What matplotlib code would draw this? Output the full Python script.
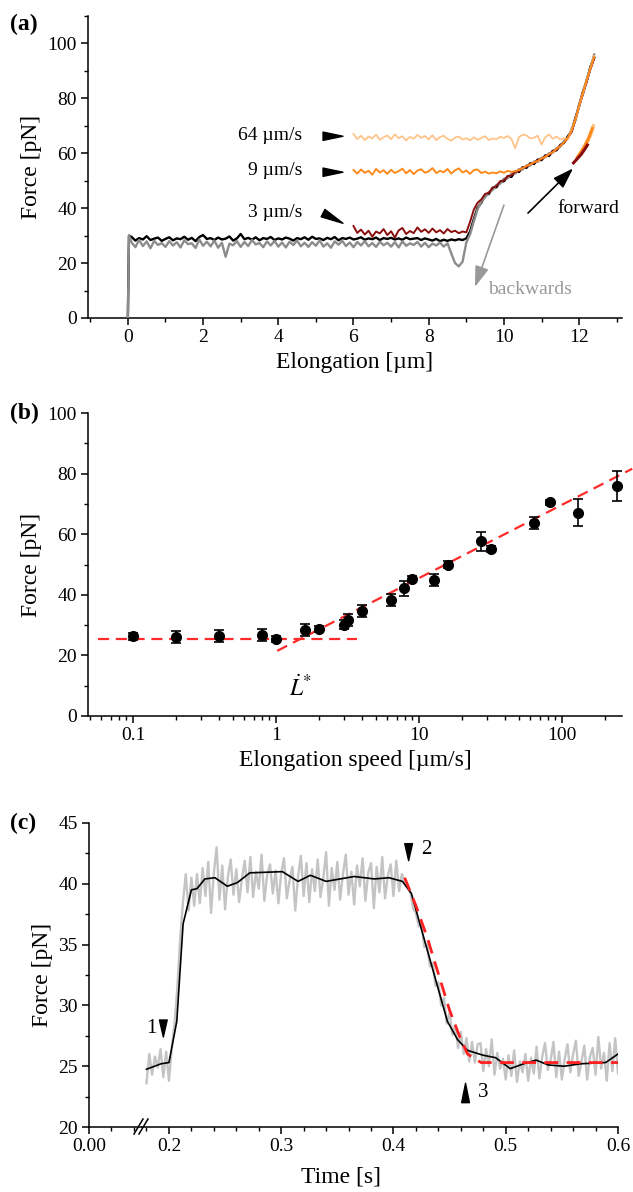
import numpy as np
import matplotlib
matplotlib.use("Agg")
import matplotlib.pyplot as plt
from matplotlib.lines import Line2D
from matplotlib.ticker import MultipleLocator, FixedLocator, FuncFormatter, LogLocator, NullFormatter

plt.rcParams["font.family"] = ["Liberation Serif", "DejaVu Serif"]
plt.rcParams["mathtext.fontset"] = "stix"
plt.rcParams["axes.linewidth"] = 1.1

# ---------------- (a) force vs elongation traces ----------------
start_x = [0.0, 0.03]
start_f = [0.0, 30.0]

# plateau sampled every 0.1 um from 0.1 to 9.0
black_plateau = [
    29.5, 28.2, 29.1, 28.6, 29.8, 28.4, 28.9, 29.3, 28.1, 28.8,
    29.4, 28.3, 29.0, 28.7, 29.6, 28.5, 29.2, 28.0, 29.5, 30.2,
    28.8, 29.1, 28.4, 29.3, 28.6, 28.9, 29.7, 28.2, 29.0, 30.6,
    28.7, 29.2, 28.5, 29.4, 28.3, 29.1, 28.8, 29.5, 28.4, 29.0,
    28.6, 29.3, 28.9, 28.2, 29.1, 28.7, 29.4, 28.5, 29.6, 28.8,
    29.0, 28.4, 29.2, 28.7, 29.5, 28.3, 29.1, 28.8, 29.3, 28.6,
    28.9, 29.4, 28.5, 29.0, 28.7, 29.3, 28.4, 29.1, 28.8, 29.2,
    28.6, 29.0, 28.5, 29.3, 28.7, 28.9, 29.1, 28.4, 29.0, 28.6,
    28.2, 28.8, 28.0, 28.5, 28.1, 28.6, 28.3, 28.7, 28.4, 29.0,
]
gray_plateau = [
    27.5, 25.8, 28.4, 26.2, 27.9, 25.4, 28.1, 26.6, 27.3, 25.9,
    28.0, 26.4, 27.6, 25.7, 28.3, 26.9, 27.2, 25.5, 28.6, 26.3,
    27.8, 26.1, 28.2, 25.6, 27.4, 22.3, 27.1, 26.5, 28.0, 25.9,
    27.7, 26.2, 28.4, 26.8, 27.3, 25.8, 27.9, 26.4, 28.1, 26.0,
    27.5, 25.7, 27.8, 26.6, 28.2, 26.1, 27.4, 25.9, 27.6, 26.3,
    28.3, 26.0, 27.2, 25.6, 27.9, 26.7, 28.1, 26.2, 27.5, 25.8,
    27.7, 26.4, 28.0, 26.1, 27.3, 25.9, 27.8, 26.5, 27.4, 26.0,
    27.6, 25.7, 27.9, 26.3, 27.2, 26.6, 27.7, 26.0, 27.4, 25.8,
    27.1, 26.4, 27.5, 26.0, 27.2, 23.5, 20.0, 18.8, 20.5, 27.5,
]
# rising part sampled every 0.1 um from 9.1 to 12.4
black_rise = [
    31.5, 36.0, 40.2, 42.0, 44.8, 45.2, 47.4, 47.6, 49.6, 49.8,
    51.6, 51.4, 53.4, 53.2, 54.9, 54.7, 56.3, 56.1, 57.7, 57.5,
    59.2, 59.0, 60.9, 61.1, 63.0, 63.9, 66.2, 68.0, 72.8, 77.2,
    82.4, 86.2, 91.5, 94.8,
]
gray_rise = [
    30.5, 35.2, 39.6, 42.5, 44.0, 45.9, 46.6, 48.5, 48.9, 50.7,
    50.9, 52.5, 52.6, 54.2, 54.1, 55.6, 55.5, 57.0, 56.9, 58.4,
    58.5, 60.0, 60.2, 61.9, 62.4, 64.5, 65.4, 68.8, 72.0, 78.0,
    81.5, 87.0, 91.0, 96.0,
]
# 3 um/s: 6.0 - 9.0 plateau, then 9.1 - 12.4
red_plateau = [
    33.5, 31.0, 32.2, 30.4, 31.8, 29.6, 31.5, 30.8, 32.4, 30.2,
    31.6, 29.3, 31.9, 32.8, 30.6, 31.7, 30.9, 33.0, 31.4, 32.3,
    31.0, 32.6, 31.2, 32.0, 30.8, 32.4, 31.3, 31.8, 30.9, 31.5,
    31.2,
]
red_rise = [
    35.0, 39.5, 42.0, 43.2, 45.2, 45.6, 47.5, 48.0, 49.8, 50.1,
    51.7, 51.9, 53.3, 53.5, 54.9, 55.0, 56.2, 56.4, 57.6, 57.8,
    59.1, 59.3, 60.8, 61.2, 62.9, 63.8, 65.6, 67.8, 72.0, 77.0,
    81.5, 86.0, 90.5, 94.5,
]
# 9 um/s: 6.0 - 10.3 plateau, then 10.4 - 12.4
orange_plateau = [
    53.9, 52.6, 54.1, 52.9, 53.6, 52.2, 54.3, 53.0, 53.8, 52.5,
    54.0, 52.8, 53.5, 54.4, 52.7, 53.9, 52.4, 53.7, 54.2, 52.9,
    53.4, 54.6, 52.8, 53.6, 53.1, 54.3, 52.6, 53.8, 54.5, 53.0,
    53.7, 52.5, 53.9, 54.1, 52.8, 53.3, 52.6, 53.0, 52.7, 53.4,
    52.9, 53.6, 53.2, 53.5,
]
orange_rise = [
    53.9, 54.6, 55.4, 55.9, 56.7, 57.2, 58.1, 58.7, 59.7, 60.4,
    61.6, 62.6, 64.0, 65.7, 68.2, 72.4, 77.4, 82.2, 86.6, 91.0,
    95.2,
]
# 64 um/s: 6.0 - 11.7 plateau, then 11.8 - 12.4
light_plateau = [
    67.0, 65.2, 66.4, 64.8, 66.1, 65.4, 66.8, 64.9, 65.8, 66.5,
    65.1, 66.9, 65.5, 66.2, 64.7, 66.0, 65.3, 66.7, 65.6, 66.3,
    65.0, 66.6, 64.8, 65.9, 66.4, 65.2, 64.6, 65.7, 66.1, 65.0,
    65.5, 64.7, 65.8, 64.9, 65.6, 66.2, 64.8, 65.4, 65.1, 66.0,
    65.6, 66.3, 65.2, 61.8, 65.9, 66.8, 66.5, 65.4, 65.7, 66.4,
    63.2, 65.8, 66.9, 65.3, 66.1, 65.0, 65.5, 65.2,
]
light_rise = [68.5, 72.2, 77.0, 81.8, 86.4, 90.8, 95.5]

# short lower "forward" segments near 12 um
fwd_red_x = [11.85, 11.95, 12.05, 12.15, 12.22]
fwd_red_f = [56.5, 58.0, 59.5, 61.5, 63.0]
fwd_org_x = [11.95, 12.05, 12.15, 12.25, 12.35]
fwd_org_f = [58.5, 60.5, 62.8, 65.5, 69.0]
fwd_light_x = [12.2, 12.3, 12.38]
fwd_light_f = [63.5, 66.5, 70.0]

speed_labels = ["64 µm/s", "9 µm/s", "3 µm/s"]
label_f = [66.5, 53.8, 38.4]
pointer_tail = [(5.19, 66.2), (5.19, 53.1), (5.19, 38.2)]
pointer_head = [(5.72, 66.2), (5.72, 53.1), (5.72, 34.5)]

# ---------------- (b) plateau force vs speed ----------------
speed = [0.1, 0.2, 0.4, 0.8, 1.0, 1.6, 2.0, 3.0, 3.2, 4.0, 6.4, 7.9, 8.9,
         12.7, 16, 27, 32, 64, 82, 129, 243]
force = [26.3, 26.1, 26.4, 26.8, 25.5, 28.3, 28.8, 30.1, 31.6, 34.7, 38.2,
         42.2, 45.1, 45.0, 50.0, 57.6, 55.2, 63.7, 70.6, 67.1, 75.8]
force_err = [1.2, 2.0, 2.0, 2.0, 1.0, 2.0, 1.0, 1.5, 2.0, 2.0, 2.0, 2.5, 1.0,
             2.0, 1.3, 3.0, 1.0, 2.0, 0.8, 4.5, 5.0]
flat_fit_x = [0.057, 3.7]
flat_fit_f = [25.3, 25.3]
log_fit_x = [1.02, 310]
log_fit_f = [21.5, 81.6]

# ---------------- (c) force vs time ----------------
raw_force = [
    23.6, 26.0, 24.3, 25.8, 24.9, 26.4, 24.1, 26.2, 23.8,
    26.5, 28.5, 31.5, 35.5, 38.5, 40.8, 37.8, 40.5, 38.2,
    40.8, 38.4, 41.3, 39.0, 41.8, 37.6, 40.9, 43.0, 38.7, 41.5,
    37.9, 40.6, 42.0, 39.1, 41.2, 38.5, 40.4, 41.9, 39.3, 42.2,
    38.9, 41.0, 39.6, 42.4, 38.6, 40.7, 41.6, 39.2, 41.1, 38.4,
    40.9, 42.1, 38.8, 40.3, 41.4, 37.8, 40.6, 42.3, 39.0, 41.7,
    38.5, 41.2, 39.4, 42.0, 38.9, 40.5, 42.6, 38.2, 41.3, 39.5,
    41.8, 38.7, 40.8, 42.4, 39.1, 41.0, 38.3, 41.5, 39.8, 42.1,
    38.6, 40.9, 41.7, 38.0, 41.4, 39.3, 42.2, 38.8, 40.7, 41.6,
    39.0, 41.9, 39.4, 40.8, 40.2,
    39.8, 39.3, 38.0, 37.6, 36.5, 36.6, 34.8, 35.0, 33.2, 33.5,
    31.6, 31.9, 30.0, 30.6, 28.5, 29.4, 27.6, 28.4, 26.5, 27.8,
    26.0, 27.3, 25.4, 27.0, 25.3, 26.8,
    26.9, 24.6, 26.4, 25.0, 27.2, 24.3, 26.1, 24.8, 25.6, 23.9,
    25.9, 24.2, 26.3, 23.7, 25.4, 24.5, 26.0, 23.8, 25.7, 24.4,
    26.6, 24.0, 25.8, 26.9, 24.7, 25.5, 27.0, 24.1, 26.2, 23.9,
    25.6, 26.8, 24.5, 26.0, 27.1, 24.2, 25.4, 26.7, 23.9, 25.8,
    26.5, 24.3, 27.4, 24.8, 26.1, 23.8, 26.9, 24.6, 27.3, 24.4,
]
smooth_t = [0.180, 0.193, 0.200, 0.207, 0.2126, 0.220, 0.225, 0.232, 0.241,
            0.252, 0.261, 0.272, 0.301, 0.315, 0.326, 0.340, 0.365, 0.383,
            0.396, 0.408, 0.416, 0.426, 0.437, 0.448, 0.457, 0.466, 0.480,
            0.491, 0.504, 0.516, 0.527, 0.538, 0.552, 0.567, 0.589, 0.600]
smooth_f = [24.75, 25.2, 25.3, 28.7, 36.7, 39.5, 39.6, 40.4, 40.5,
            39.8, 40.1, 40.9, 41.0, 40.2, 40.7, 40.2, 40.6, 40.4,
            40.5, 40.2, 39.2, 35.9, 32.3, 28.7, 27.2, 26.3, 25.9,
            25.7, 24.8, 25.2, 25.5, 25.1, 25.0, 25.2, 25.3, 26.0]
decay_fit_t = [0.410, 0.420, 0.430, 0.440, 0.450, 0.460, 0.466, 0.478, 0.600]
decay_fit_f = [40.5, 38.2, 35.6, 32.6, 29.6, 27.2, 26.0, 25.3, 25.3]
event_t = [0.195, 0.4135, 0.4642]
event_base = [28.8, 43.3, 22.0]
event_tip = [27.4, 41.9, 23.6]
event_labels = ["1", "2", "3"]
event_label_t = [0.189, 0.4247, 0.475]
event_label_f = [28.1, 42.8, 22.8]

W, H = 633, 1192
fig = plt.figure(figsize=(W / 100, H / 100), dpi=100)


def style(ax):
    ax.spines["top"].set_visible(False)
    ax.spines["right"].set_visible(False)
    ax.tick_params(which="major", length=5, width=1.1, labelsize=14, direction="out", pad=3)
    ax.tick_params(which="minor", length=3, width=1.0, direction="out")


# ---------- panel (a)
ax_a = fig.add_axes([88 / W, 1 - 318 / H, 534 / W, 302 / H])
style(ax_a)
plateau_x = np.linspace(0.1, 9.0, len(black_plateau))
rise_x = np.linspace(9.1, 12.4, len(black_rise))
ax_a.plot(start_x + list(plateau_x) + list(rise_x), start_f + black_plateau + black_rise,
          color="black", lw=1.7, zorder=2)
ax_a.plot(start_x + list(plateau_x) + list(rise_x), start_f + gray_plateau + gray_rise,
          color="#8c8c8c", lw=1.7, zorder=3)
ax_a.plot(list(np.linspace(6.0, 9.0, len(red_plateau))) + list(rise_x), red_plateau + red_rise,
          color="#8b0d0d", lw=1.4, zorder=4)
ax_a.plot(list(np.linspace(6.0, 10.3, len(orange_plateau))) + list(np.linspace(10.4, 12.4, len(orange_rise))),
          orange_plateau + orange_rise, color="#ff8a1c", lw=1.4, zorder=5)
ax_a.plot(list(np.linspace(6.0, 11.7, len(light_plateau))) + list(np.linspace(11.8, 12.4, len(light_rise))),
          light_plateau + light_rise, color="#ffc48a", lw=1.3, zorder=4.5)
ax_a.plot(fwd_light_x, fwd_light_f, color="#ffc48a", lw=2.5, zorder=4)
ax_a.plot(fwd_org_x, fwd_org_f, color="#ff8a1c", lw=2.2, zorder=5)
ax_a.plot(fwd_red_x, fwd_red_f, color="#8b0d0d", lw=2.2, zorder=6)

for lab, fy, tail, head in zip(speed_labels, label_f, pointer_tail, pointer_head):
    ax_a.text(4.63, fy, lab, ha="right", va="center", fontsize=14)
    ax_a.annotate("", xy=head, xytext=tail,
                  arrowprops=dict(arrowstyle="wedge,tail_width=0.3", fc="black", ec="black",
                                  shrinkA=0, shrinkB=0, mutation_scale=20))
ax_a.annotate("", xy=(11.84, 54.5), xytext=(10.64, 38.2),
              arrowprops=dict(arrowstyle="-|>,head_length=0.9,head_width=0.3", color="black",
                              lw=1.2, shrinkA=0, shrinkB=0, mutation_scale=14))
ax_a.text(12.24, 40.0, "forward", ha="center", va="center", fontsize=14)
ax_a.annotate("", xy=(9.23, 11.3), xytext=(10.0, 41.1),
              arrowprops=dict(arrowstyle="-|>,head_length=0.9,head_width=0.3", color="#999999",
                              lw=1.2, shrinkA=0, shrinkB=0, mutation_scale=14))
ax_a.text(10.69, 10.2, "backwards", ha="center", va="center", fontsize=14, color="#999999")

ax_a.set_xlim(-1.06, 13.14)
ax_a.set_ylim(0, 110)
ax_a.xaxis.set_major_locator(MultipleLocator(2))
ax_a.xaxis.set_minor_locator(FixedLocator([-1, 1, 3, 5, 7, 9, 11, 13]))
ax_a.yaxis.set_major_locator(FixedLocator([0, 20, 40, 60, 80, 100]))
ax_a.yaxis.set_minor_locator(FixedLocator([10, 30, 50, 70, 90, 110]))
ax_a.set_xlabel("Elongation [µm]", fontsize=17)
ax_a.set_ylabel("Force [pN]", fontsize=17)
fig.text(10 / W, 1 - 24 / H, "(a)", fontsize=17, fontweight="bold", va="center")

# ---------- panel (b)
ax_b = fig.add_axes([88 / W, 1 - 716 / H, 534 / W, 303 / H])
style(ax_b)
ax_b.set_xscale("log")
ax_b.plot(flat_fit_x, flat_fit_f, color="#ff2b2b", lw=1.6, dashes=(5, 3), zorder=1)
ax_b.plot(log_fit_x, log_fit_f, color="#ff2b2b", lw=1.6, dashes=(5, 3), zorder=1, clip_on=False)
ax_b.errorbar(speed, force, yerr=force_err, fmt="o", color="black", ms=7,
              capsize=3.5, elinewidth=1.2, capthick=1.2, zorder=3)
ax_b.text(1.48, 9.0, r"$\dot{L}^{*}$", ha="center", va="center", fontsize=17)
ax_b.set_xlim(0.0485, 263)
ax_b.set_ylim(0, 100)
ax_b.xaxis.set_major_locator(FixedLocator([0.1, 1, 10, 100]))
ax_b.xaxis.set_major_formatter(FuncFormatter(lambda v, p: f"{v:g}"))
ax_b.xaxis.set_minor_locator(LogLocator(base=10, subs=np.arange(2, 10)))
ax_b.xaxis.set_minor_formatter(NullFormatter())
ax_b.yaxis.set_major_locator(MultipleLocator(20))
ax_b.yaxis.set_minor_locator(MultipleLocator(10))
ax_b.set_xlabel("Elongation speed [µm/s]", fontsize=17)
ax_b.set_ylabel("Force [pN]", fontsize=17)
fig.text(10 / W, 1 - 413 / H, "(b)", fontsize=17, fontweight="bold", va="center")

# ---------- panel (c), broken time axis
bottom_c = 1 - 1127 / H
height_c = 304 / H
ax_c0 = fig.add_axes([89 / W, bottom_c, 53 / W, height_c])
ax_c = fig.add_axes([142 / W, bottom_c, 476 / W, height_c], sharey=ax_c0)
style(ax_c0)
style(ax_c)
ax_c.spines["left"].set_visible(False)
ax_c.tick_params(axis="y", which="both", left=False, labelleft=False)
ax_c0.set_xlim(0, 0.0472)
ax_c0.xaxis.set_major_locator(FixedLocator([0.0]))
ax_c0.xaxis.set_major_formatter(FuncFormatter(lambda v, p: f"{v:.2f}"))
ax_c0.xaxis.set_minor_locator(FixedLocator([0.02, 0.04]))
ax_c0.set_ylim(20, 45)
ax_c0.yaxis.set_major_locator(MultipleLocator(5))
ax_c0.yaxis.set_minor_locator(MultipleLocator(2.5))
ax_c0.set_ylabel("Force [pN]", fontsize=17)

raw_t = np.linspace(0.18, 0.6, len(raw_force))
ax_c.plot(raw_t, raw_force, color="#c4c4c4", lw=1.7, zorder=1)
ax_c.plot(smooth_t, smooth_f, color="black", lw=1.2, zorder=2)
ax_c.plot(decay_fit_t, decay_fit_f, color="#ff2020", lw=2.0, dashes=(5, 3), zorder=3)
for t, b, tip in zip(event_t, event_base, event_tip):
    ax_c.annotate("", xy=(t, tip), xytext=(t, b),
                  arrowprops=dict(arrowstyle="wedge,tail_width=0.28", fc="black", ec="black",
                                  shrinkA=0, shrinkB=0, mutation_scale=20))
for lab, t, f in zip(event_labels, event_label_t, event_label_f):
    ax_c.text(t, f, lab, ha="right" if lab == "1" else "left", va="center", fontsize=15)
ax_c.set_xlim(0.176, 0.6)
ax_c.xaxis.set_major_locator(FixedLocator([0.2, 0.3, 0.4, 0.5, 0.6]))
ax_c.xaxis.set_major_formatter(FuncFormatter(lambda v, p: f"{v:.1f}"))
ax_c.xaxis.set_minor_locator(MultipleLocator(0.02))
ax_c.set_xlabel("Time [s]", fontsize=17)
ax_c.xaxis.set_label_coords(341 / W, 1 - 1167 / H, transform=fig.transFigure)
fig.text(10 / W, 1 - 823 / H, "(c)", fontsize=17, fontweight="bold", va="center")

# axis break marks
for x0 in (134, 139):
    fig.add_artist(Line2D([x0 / W, (x0 + 9) / W], [1 - 1134 / H, 1 - 1119 / H],
                          color="black", lw=1.1))

fig.savefig("out.png", dpi=100)
